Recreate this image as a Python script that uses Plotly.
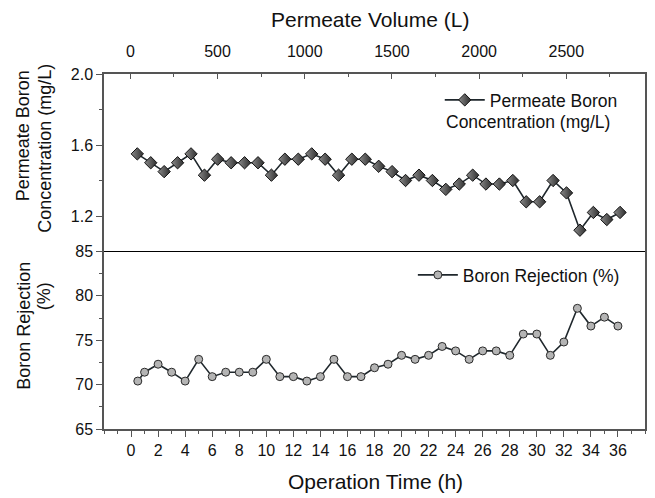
import plotly.graph_objects as go

# ---------------- data ----------------
hours = [0.5, 1, 2, 3, 4, 5, 6, 7, 8, 9, 10, 11, 12, 13, 14, 15, 16, 17, 18,
         19, 20, 21, 22, 23, 24, 25, 26, 27, 28, 29, 30, 31, 32, 33, 34, 35, 36]
volume_l = [40, 117, 194, 271, 348, 425, 501, 578, 655, 732, 809, 886, 963,
            1040, 1117, 1194, 1270, 1347, 1424, 1501, 1578, 1655, 1732, 1809,
            1886, 1963, 2039, 2116, 2193, 2270, 2347, 2424, 2501, 2578, 2655,
            2732, 2808]
conc_mgL = [1.55, 1.50, 1.45, 1.50, 1.55, 1.43, 1.52, 1.50, 1.50, 1.50, 1.43,
            1.52, 1.52, 1.55, 1.52, 1.43, 1.52, 1.52, 1.48, 1.45, 1.40, 1.43,
            1.40, 1.35, 1.38, 1.43, 1.38, 1.38, 1.40, 1.28, 1.28, 1.40, 1.33,
            1.12, 1.22, 1.18, 1.22]
rejection = [70.4, 71.4, 72.3, 71.4, 70.4, 72.85, 70.9, 71.4, 71.4, 71.4, 72.85,
             70.9, 70.9, 70.4, 70.9, 72.85, 70.9, 70.9, 71.9, 72.3, 73.3, 72.85,
             73.3, 74.3, 73.8, 72.85, 73.8, 73.8, 73.3, 75.7, 75.7, 73.3, 74.8,
             78.6, 76.6, 77.6, 76.6]

time_ticks = [0, 2, 4, 6, 8, 10, 12, 14, 16, 18, 20, 22, 24, 26, 28, 30, 32, 34, 36]
volume_ticks = [0, 500, 1000, 1500, 2000, 2500]
conc_ticks = [1.2, 1.6, 2.0]
rej_ticks = [65, 70, 75, 80, 85]

FONT = "Arial, Liberation Sans, sans-serif"
AX = "#555555"
W, H = 655, 498
L, R, T, B = 104, 8, 74, 69
PW, PH = W - L - R, H - T - B


def px(xp):
    return (xp - L) / PW


def py(yp):
    return (H - B - yp) / PH


fig = go.Figure()

fig.add_trace(go.Scatter(
    x=volume_l, y=conc_mgL, xaxis="x2", yaxis="y2", mode="lines+markers",
    name="Permeate Boron", legend="legend2",
    line=dict(color="#1f272c", width=1.6),
    marker=dict(symbol="diamond", size=9.5, color="#8a8a8a",
                gradient=dict(type="horizontal", color="#2e2e2e"),
                line=dict(color="#111111", width=1)),
))

fig.add_trace(go.Scatter(
    x=hours, y=rejection, xaxis="x", yaxis="y", mode="lines+markers",
    name="Boron Rejection (%)", legend="legend",
    line=dict(color="#1f272c", width=1.6),
    marker=dict(symbol="circle", size=8, color="#b4b4b4",
                line=dict(color="#2a2a2a", width=1)),
))

common = dict(showgrid=False, zeroline=False, showline=True, linecolor=AX,
              linewidth=1.5, tickcolor=AX, tickwidth=1.2,
              tickfont=dict(family=FONT, size=16, color="#111"))

fig.update_layout(
    width=W, height=H,
    margin=dict(l=L, r=R, t=T, b=B, pad=0),
    paper_bgcolor="white", plot_bgcolor="white",
    font=dict(family=FONT, color="#111"),
    showlegend=True,
    xaxis=dict(domain=[0, 1], range=[-2, 38], anchor="y", side="bottom",
               tickmode="array", tickvals=time_ticks, ticks="outside", ticklen=6,
               minor=dict(dtick=1, tick0=0, ticks="outside", ticklen=3,
                          tickcolor=AX),
               **common),
    xaxis2=dict(domain=[0, 1], range=[-151, 2951], anchor="y2", side="top",
                tickmode="array", tickvals=volume_ticks, ticks="inside",
                ticklen=5,
                minor=dict(dtick=250, tick0=0, ticks="inside", ticklen=3,
                           tickcolor=AX),
                ticklabelstandoff=9,
                **common),
    yaxis=dict(domain=[0, 0.5], range=[65, 85], anchor="x",
               tickmode="array", tickvals=rej_ticks, ticks="outside", ticklen=6,
               minor=dict(dtick=2.5, tick0=65, ticks="outside", ticklen=3,
                          tickcolor=AX),
               mirror=True, **common),
    yaxis2=dict(domain=[0.5, 1], range=[1.0, 2.0], anchor="x2",
                tickmode="array", tickvals=conc_ticks, tickformat=".1f",
                ticks="outside", ticklen=6,
                minor=dict(dtick=0.2, tick0=1.0, ticks="outside", ticklen=3,
                           tickcolor=AX),
                mirror=True, **common),
    legend=dict(x=px(414), y=py(275), xanchor="left", yanchor="middle",
                bgcolor="rgba(0,0,0,0)", borderwidth=0,
                font=dict(family=FONT, size=17.5, color="#111"),
                itemwidth=40),
    legend2=dict(x=px(441), y=py(100), xanchor="left", yanchor="middle",
                 bgcolor="rgba(0,0,0,0)", borderwidth=0,
                 font=dict(family=FONT, size=17.5, color="#111"),
                 itemwidth=40),
    shapes=[dict(type="line", xref="paper", yref="paper", x0=0, x1=1,
                 y0=0.5, y1=0.5, line=dict(color="#000", width=1))],
)

ann = [
    ("Permeate Volume (L)", 371, 20, 0, 21),
    ("Operation Time (h)", 377, 481, 0, 21),
    ("Permeate Boron", 23, 136, -90, 18),
    ("Concentration (mg/L)", 44, 148.5, -90, 18),
    ("Boron Rejection", 23, 325.5, -90, 18),
    ("(%)", 44, 296, -90, 18),
]
annotations = []
for text, xp, yp, ang, size in ann:
    annotations.append(dict(text=text, x=px(xp), y=py(yp), xref="paper",
                            yref="paper", xanchor="center", yanchor="middle",
                            textangle=ang, showarrow=False,
                            font=dict(family=FONT, size=size, color="#111")))
annotations.append(dict(text="Concentration (mg/L)", x=px(445.7), y=py(121.7),
                        xref="paper", yref="paper", xanchor="left",
                        yanchor="middle", showarrow=False,
                        font=dict(family=FONT, size=17.5, color="#111")))
fig.update_layout(annotations=annotations)

fig.write_html("out.html",
               config={"displayModeBar": False},
               post_script="document.body.style.margin='0';"
                           "document.body.style.padding='0';")
